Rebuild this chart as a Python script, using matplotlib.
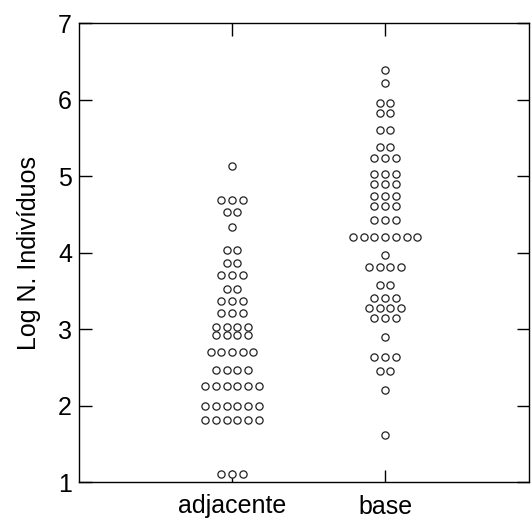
import matplotlib
matplotlib.use("Agg")
import matplotlib.pyplot as plt
from collections import Counter

categories = ["adjacente", "base"]

# values (one entry per dot)
adjacente = ([5.13] + [4.69] * 3 + [4.53] * 2 + [4.33] + [4.03] * 2 + [3.86] * 2 +
             [3.70] * 3 + [3.52] * 2 + [3.36] * 3 + [3.21] * 3 + [3.03] * 4 +
             [2.92] * 4 + [2.70] * 5 + [2.46] * 4 + [2.25] * 6 + [1.99] * 6 +
             [1.81] * 6 + [1.10] * 3)
base = ([6.38] + [6.22] + [5.95] * 2 + [5.82] * 2 + [5.60] * 2 + [5.38] * 2 +
        [5.24] * 3 + [5.03] * 3 + [4.90] * 3 + [4.74] * 3 + [4.61] * 3 +
        [4.43] * 3 + [4.20] * 7 + [3.97] + [3.81] * 4 + [3.57] * 2 + [3.41] * 3 +
        [3.28] * 4 + [3.15] * 3 + [2.90] + [2.63] * 3 + [2.45] * 2 + [2.20] + [1.61])
series = [adjacente, base]
yticks = [1, 2, 3, 4, 5, 6, 7]

plt.rcParams['font.family'] = ['Liberation Sans', 'DejaVu Sans']

fig = plt.figure(figsize=(5.31, 5.20), dpi=100)
ax = fig.add_axes([79 / 531, 38 / 520, 450 / 531, 459 / 520])

xmin, xmax = 0.0, 2.94
ax.set_xlim(xmin, xmax)
ax.set_ylim(1, 7)

px_per_unit = 450 / (xmax - xmin)
spacing = 10.7 / px_per_unit

for i, vals in enumerate(series):
    xc = i + 1
    counts = Counter(vals)
    xs, ys = [], []
    for v, n in counts.items():
        for k in range(n):
            xs.append(xc + (k - (n - 1) / 2) * spacing)
            ys.append(v)
    ax.plot(xs, ys, linestyle='none', marker='o', markersize=5.2,
            markerfacecolor='white', markeredgecolor='#222222',
            markeredgewidth=0.9, clip_on=False, zorder=3)

ax.set_xticks([1, 2])
ax.set_xticklabels(categories)
ax.set_yticks(yticks)
ax.set_yticklabels([str(t) for t in yticks])
ax.tick_params(direction='in', length=9, width=1, labelsize=18,
               top=True, right=True, colors='black', pad=5)
ax.tick_params(axis='x', pad=9)
for s in ax.spines.values():
    s.set_linewidth(1.0)
ax.set_ylabel("Log N. Indivíduos", fontsize=18, labelpad=12)

fig.savefig("out.png", dpi=100)
